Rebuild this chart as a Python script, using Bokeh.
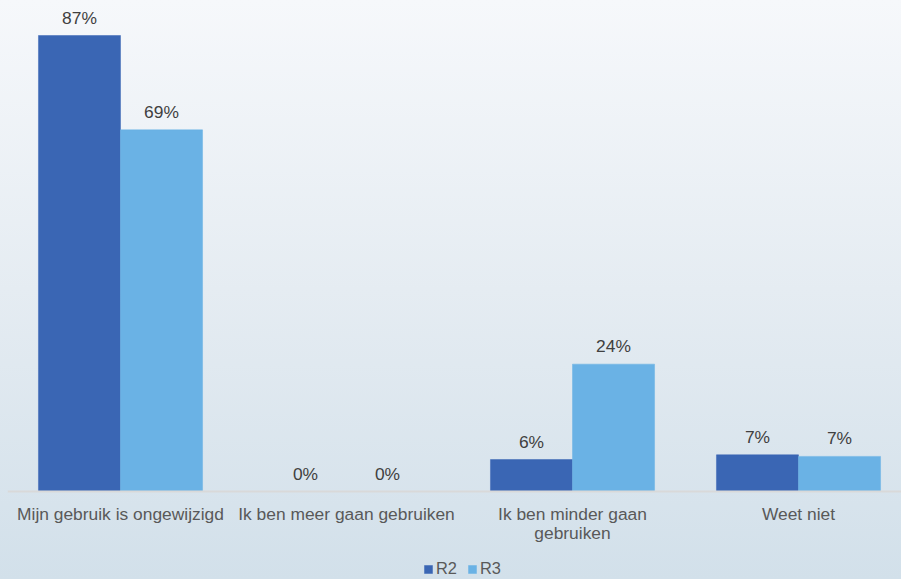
from bokeh.plotting import figure
from bokeh.models import ColumnDataSource, Range1d, LabelSet, Legend, LegendItem, Span
from bokeh.core.properties import value
from bokeh.transform import dodge
from bokeh.embed import file_html
from bokeh.resources import INLINE

categories = ["Mijn gebruik is ongewijzigd", "Ik ben meer gaan gebruiken",
              "Ik ben minder gaan gebruiken", "Weet niet"]
category_line1 = ["Mijn gebruik is ongewijzigd", "Ik ben meer gaan gebruiken",
                  "Ik ben minder gaan", "Weet niet"]
category_line2 = ["", "", "gebruiken", ""]
r2_values = [87.0, 0.0, 6.1, 7.0]
r3_values = [69.0, 0.0, 24.3, 6.7]
series_names = ["R2", "R3"]

R2_COLOR = "#3A66B4"
R3_COLOR = "#6AB2E5"
FONT = value("Liberation Sans")

W, H = 901, 579
LEFT = 7
CAT_PX = 226           # pixel width of one category slot
BASE_PX = 491          # pixel row (from top) of the zero line
PX_PER_PCT = 456 / 87  # vertical scale

src = ColumnDataSource(dict(
    cat=categories,
    idx=list(range(len(categories))),
    l1=category_line1,
    l2=category_line2,
    zero=[0] * len(categories),
    r2=r2_values,
    r3=r3_values,
    r2_lbl=[f"{round(v)}%" for v in r2_values],
    r3_lbl=[f"{round(v)}%" for v in r3_values],
))

p = figure(width=W, height=H,
           x_range=Range1d(-0.5, -0.5 + (W - LEFT) / CAT_PX),
           y_range=Range1d(-(H - BASE_PX) / PX_PER_PCT, BASE_PX / PX_PER_PCT),
           output_backend="svg", toolbar_location=None,
           min_border_left=LEFT, min_border_right=0, min_border_top=0, min_border_bottom=0)
p.border_fill_color = None
p.background_fill_color = None
p.outline_line_color = None
p.styles = {"background-image": "linear-gradient(to bottom, #F6F8FB 0%, #E5ECF2 50%, #D2E0EA 100%)"}
p.xaxis.visible = False
p.yaxis.visible = False
p.xgrid.visible = False
p.ygrid.visible = False

bw = 0.363
g2 = p.vbar(x=dodge("idx", -bw / 2), top="r2", width=bw, source=src,
            fill_color=R2_COLOR, line_color=R2_COLOR, line_width=0.5)
g3 = p.vbar(x=dodge("idx", bw / 2), top="r3", width=bw, source=src,
            fill_color=R3_COLOR, line_color=R3_COLOR, line_width=0.5)

p.add_layout(Span(location=0, dimension="width", line_color="#D9D9D9", line_width=2))

for field, off in (("r2", -bw / 2), ("r3", bw / 2)):
    p.add_layout(LabelSet(x=dodge("idx", off), y=field, text=field + "_lbl",
                          source=src, text_align="center", text_baseline="alphabetic",
                          y_offset=12, text_font=FONT, text_font_size="17.4px",
                          text_color="#404040"))

for field, off in (("l1", -28), ("l2", -47)):
    p.add_layout(LabelSet(x="idx", y="zero", text=field, source=src, text_align="center",
                          text_baseline="alphabetic", y_offset=off, text_font=FONT,
                          text_font_size="17.4px", text_color="#595959"))

legend = Legend(items=[LegendItem(label=series_names[0], renderers=[g2]),
                       LegendItem(label=series_names[1], renderers=[g3])],
                orientation="horizontal", location=(416, 1),
                background_fill_alpha=0, border_line_color=None,
                label_text_font="Liberation Sans", label_text_font_size="16.4px",
                label_text_color="#595959",
                glyph_width=10, glyph_height=10, label_standoff=3, spacing=10,
                padding=0, margin=0, label_height=16)
p.add_layout(legend)

open("out.html", "w").write(file_html(p, INLINE))
